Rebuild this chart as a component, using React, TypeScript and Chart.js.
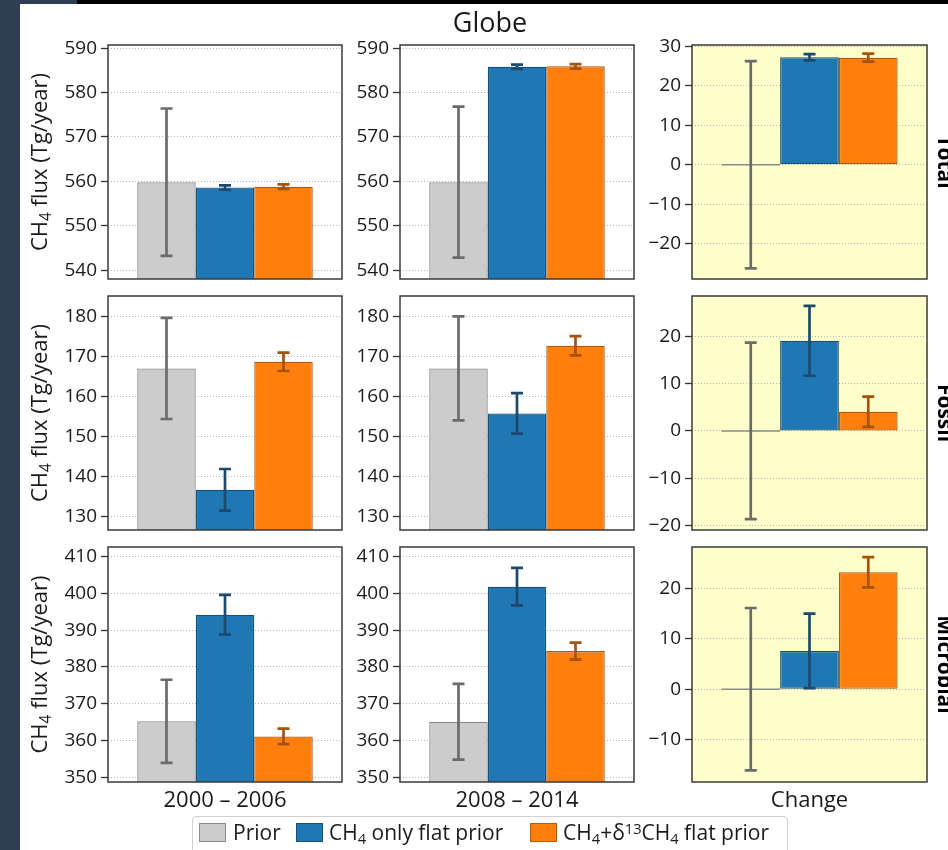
import React, { useEffect, useRef } from 'react';
import { Chart, registerables } from 'chart.js';
Chart.register(...registerables);

// ---------- data ----------
const periods = ['2000 – 2006', '2008 – 2014', 'Change'];
const rowNames = ['Total', 'Fossil', 'Microbial'];
const seriesNames = ['Prior', 'CH4 only flat prior', 'CH4+d13CH4 flat prior'];

// each array: [2000-2006, 2008-2014, Change]
const totalPrior = [559.8, 559.8, 0];
const totalPriorErr = [16.6, 17.0, 26.2];
const totalCh4 = [558.6, 585.8, 27.2];
const totalCh4Err = [0.5, 0.5, 0.8];
const totalIso = [558.8, 585.9, 27.1];
const totalIsoErr = [0.5, 0.5, 1.0];

const fossilPrior = [167.1, 167.1, 0];
const fossilPriorErr = [12.65, 13.0, 18.7];
const fossilCh4 = [136.75, 155.85, 19.1];
const fossilCh4Err = [5.2, 5.05, 7.4];
const fossilIso = [168.75, 172.75, 4.05];
const fossilIsoErr = [2.3, 2.4, 3.2];

const microPrior = [365.2, 365.1, 0];
const microPriorErr = [11.3, 10.3, 16.1];
const microCh4 = [394.2, 401.8, 7.6];
const microCh4Err = [5.4, 5.1, 7.4];
const microIso = [361.1, 384.3, 23.2];
const microIsoErr = [2.1, 2.3, 3.0];

const totalTicks = [540, 550, 560, 570, 580, 590];
const totalChangeTicks = [-20, -10, 0, 10, 20, 30];
const fossilTicks = [130, 140, 150, 160, 170, 180];
const fossilChangeTicks = [-20, -10, 0, 10, 20];
const microTicks = [350, 360, 370, 380, 390, 400, 410];
const microChangeTicks = [-10, 0, 10, 20];

const totalRange = [538.0, 590.7];
const totalChangeRange = [-28.9, 30.3];
const fossilRange = [126.7, 185.2];
const fossilChangeRange = [-21.0, 28.6];
const microRange = [348.7, 412.6];
const microChangeRange = [-18.4, 28.2];

// ---------- styling ----------
const FONT = '"Open Sans", "Noto Sans", sans-serif';
const fills = ['#cccccc', '#1f77b4', '#ff7f0e'];
const edges = ['#8a8a8a', '#1b4f76', '#b15a0c'];
const errColors = ['#6b6b6b', '#1b4a6e', '#a5520a'];
const colLeft = [108, 400, 692];
const colW = [234, 234, 235];
const rowTop = [45, 296, 547];
const rowH = [234, 234, 235];
const AXW = 62;
const PAD = 16;

const rowsData = [
  { prior: totalPrior, priorErr: totalPriorErr, ch4: totalCh4, ch4Err: totalCh4Err, iso: totalIso, isoErr: totalIsoErr,
    ticks: totalTicks, range: totalRange, chTicks: totalChangeTicks, chRange: totalChangeRange },
  { prior: fossilPrior, priorErr: fossilPriorErr, ch4: fossilCh4, ch4Err: fossilCh4Err, iso: fossilIso, isoErr: fossilIsoErr,
    ticks: fossilTicks, range: fossilRange, chTicks: fossilChangeTicks, chRange: fossilChangeRange },
  { prior: microPrior, priorErr: microPriorErr, ch4: microCh4, ch4Err: microCh4Err, iso: microIso, isoErr: microIsoErr,
    ticks: microTicks, range: microRange, chTicks: microChangeTicks, chRange: microChangeRange },
];

const fmt = (v: number) => (v < 0 ? '\u2212' + Math.abs(v) : String(v));

const panelPlugin = {
  id: 'panelDeco',
  beforeDraw(chart: any, _a: any, opts: any) {
    const { ctx, chartArea: ca } = chart;
    if (opts && opts.bg) {
      ctx.save();
      ctx.fillStyle = opts.bg;
      ctx.fillRect(ca.left, ca.top, ca.right - ca.left, ca.bottom - ca.top);
      ctx.restore();
    }
  },
  afterDatasetsDraw(chart: any) {
    const { ctx } = chart;
    const y = chart.scales.y;
    ctx.save();
    chart.data.datasets.forEach((ds: any, i: number) => {
      const meta = chart.getDatasetMeta(i);
      meta.data.forEach((el: any, j: number) => {
        const v = ds.data[j];
        const e = ds.errors[j];
        if (v === 0) {
          const y0 = y.getPixelForValue(0);
          ctx.strokeStyle = ds.borderColor;
          ctx.lineWidth = 1.4;
          ctx.beginPath();
          ctx.moveTo(el.x - el.width / 2, y0);
          ctx.lineTo(el.x + el.width / 2, y0);
          ctx.stroke();
        }
        const yt = y.getPixelForValue(v + e);
        const yb = y.getPixelForValue(v - e);
        ctx.strokeStyle = ds.errColor;
        ctx.lineWidth = 2.7;
        ctx.beginPath();
        ctx.moveTo(el.x, yt);
        ctx.lineTo(el.x, yb);
        ctx.moveTo(el.x - 6, yt);
        ctx.lineTo(el.x + 6, yt);
        ctx.moveTo(el.x - 6, yb);
        ctx.lineTo(el.x + 6, yb);
        ctx.stroke();
      });
    });
    ctx.restore();
  },
  afterDraw(chart: any) {
    const { ctx, chartArea: ca } = chart;
    ctx.save();
    ctx.strokeStyle = '#3a3a3a';
    ctx.lineWidth = 1.5;
    ctx.strokeRect(ca.left, ca.top, ca.right - ca.left, ca.bottom - ca.top);
    ctx.restore();
  },
};

function Panel(props: { r: number; c: number }) {
  const { r, c } = props;
  const ref = useRef<HTMLCanvasElement>(null);
  const rd = rowsData[r];
  const isChange = c === 2;
  const w = AXW + colW[c] + PAD;
  const h = PAD + rowH[r] + PAD;
  useEffect(() => {
    const values = [rd.prior[c], rd.ch4[c], rd.iso[c]];
    const errs = [rd.priorErr[c], rd.ch4Err[c], rd.isoErr[c]];
    const ticks = isChange ? rd.chTicks : rd.ticks;
    const range = isChange ? rd.chRange : rd.range;
    const chart = new Chart(ref.current as HTMLCanvasElement, {
      type: 'bar',
      data: {
        labels: [periods[c]],
        datasets: seriesNames.map((name, i) => ({
          label: name,
          data: [values[i]],
          errors: [errs[i]],
          errColor: errColors[i],
          backgroundColor: fills[i],
          borderColor: edges[i],
          borderWidth: 1.3,
          borderSkipped: false,
          categoryPercentage: 0.75,
          barPercentage: 1.0,
        })) as any,
      },
      options: {
        responsive: false,
        maintainAspectRatio: false,
        animation: false,
        layout: { padding: { left: 0, right: PAD, top: PAD, bottom: PAD } },
        plugins: {
          legend: { display: false },
          tooltip: { enabled: false },
          panelDeco: { bg: isChange ? '#ffffcc' : null },
        } as any,
        scales: {
          x: { type: 'category', display: false, offset: true },
          y: {
            type: 'linear',
            min: range[0],
            max: range[1],
            afterBuildTicks: (s: any) => {
              s.ticks = ticks.map((v) => ({ value: v }));
            },
            afterFit: (s: any) => {
              s.width = AXW;
            },
            ticks: {
              font: { family: FONT, size: 19 },
              color: '#1a1a1a',
              padding: 4,
              callback: (v: any) => fmt(Number(v)),
            },
            grid: {
              color: '#b5b5b5',
              lineWidth: 1,
              drawTicks: true,
              tickLength: 7,
              tickColor: '#333333',
              tickWidth: 1.3,
            },
            border: { display: false, dash: [1, 2] },
          } as any,
        },
      },
      plugins: [panelPlugin as any],
    });
    return () => chart.destroy();
  }, []);
  return (
    <canvas
      ref={ref}
      width={w}
      height={h}
      style={{ position: 'absolute', left: colLeft[c] - AXW, top: rowTop[r] - PAD, width: w, height: h }}
    />
  );
}

const Sub = ({ t }: { t: string }) => (
  <span style={{ fontSize: '0.7em', position: 'relative', top: '0.25em' }}>{t}</span>
);
const Sup = ({ t }: { t: string }) => (
  <span style={{ fontSize: '0.7em', position: 'relative', top: '-0.4em' }}>{t}</span>
);

function TextAt(props: { x: number; baseline: number; size: number; children: any; bold?: boolean }) {
  const { x, baseline, size, children, bold } = props;
  return (
    <div
      style={{
        position: 'absolute',
        left: x,
        top: baseline - 0.888 * size,
        fontSize: size,
        lineHeight: 1,
        whiteSpace: 'nowrap',
        transform: 'translateX(-50%)',
        fontWeight: bold ? 700 : 400,
        color: '#1a1a1a',
      }}
    >
      {children}
    </div>
  );
}

export default function App() {
  const rowCenters = rowTop.map((t, i) => t + rowH[i] / 2);
  const colCenters = colLeft.map((l, i) => l + colW[i] / 2);
  return (
    <div
      style={{
        position: 'fixed',
        left: 0,
        top: 0,
        width: 948,
        height: 850,
        overflow: 'hidden',
        background: '#ffffff',
        fontFamily: FONT,
      }}
    >
      <div style={{ position: 'absolute', left: 0, top: 0, width: 20, height: 850, background: '#2e3f54' }} />
      <div style={{ position: 'absolute', left: 0, top: 0, width: 77, height: 4, background: '#2e3f54' }} />
      <div style={{ position: 'absolute', left: 77, top: 0, width: 871, height: 4, background: '#000000' }} />

      {rowNames.map((_, r) => periods.map((__, c) => <Panel key={r + '-' + c} r={r} c={c} />))}

      <TextAt x={490} baseline={31.5} size={27}>
        Globe
      </TextAt>

      {periods.map((p, c) => (
        <TextAt key={p} x={colCenters[c]} baseline={806.5} size={22}>
          {p}
        </TextAt>
      ))}

      {rowCenters.map((cy, r) => (
        <div
          key={'yl' + r}
          style={{
            position: 'absolute',
            left: 0,
            top: 0,
            fontSize: 22,
            lineHeight: 1,
            whiteSpace: 'nowrap',
            color: '#1a1a1a',
            transformOrigin: '0 0',
            transform: `translate(${27}px, ${cy}px) rotate(-90deg) translateX(-50%)`,
          }}
        >
          CH<Sub t="4" /> flux (Tg/year)
        </div>
      ))}

      {rowNames.map((name, r) => (
        <div
          key={name}
          style={{
            position: 'absolute',
            left: 0,
            top: 0,
            fontSize: 21,
            lineHeight: 1,
            fontWeight: 700,
            whiteSpace: 'nowrap',
            color: '#000',
            transformOrigin: '0 0',
            transform: `translate(${937 + 0.888 * 21}px, ${rowCenters[r]}px) rotate(90deg) translateX(-50%)`,
          }}
        >
          {name}
        </div>
      ))}

      <div
        style={{
          position: 'absolute',
          left: 192,
          top: 816,
          width: 596,
          height: 44,
          border: '1px solid #d0d0d0',
          borderRadius: 4,
          background: '#fff',
          boxSizing: 'border-box',
        }}
      />
      {[199, 296, 530].map((x, i) => (
        <div
          key={'lp' + i}
          style={{
            position: 'absolute',
            left: x,
            top: 823,
            width: 27,
            height: 19,
            background: fills[i],
            border: `1.3px solid ${edges[i]}`,
            boxSizing: 'border-box',
          }}
        />
      ))}
      <div style={{ position: 'absolute', left: 233, top: 841 - 0.888 * 21, fontSize: 21, lineHeight: 1, whiteSpace: 'nowrap', color: '#1a1a1a' }}>
        Prior
      </div>
      <div style={{ position: 'absolute', left: 329, top: 841 - 0.888 * 21, fontSize: 21, lineHeight: 1, whiteSpace: 'nowrap', color: '#1a1a1a' }}>
        CH<Sub t="4" /> only flat prior
      </div>
      <div style={{ position: 'absolute', left: 563, top: 841 - 0.888 * 21, fontSize: 21, lineHeight: 1, whiteSpace: 'nowrap', color: '#1a1a1a' }}>
        CH<Sub t="4" />+δ<Sup t="13" />CH<Sub t="4" /> flat prior
      </div>
    </div>
  );
}
